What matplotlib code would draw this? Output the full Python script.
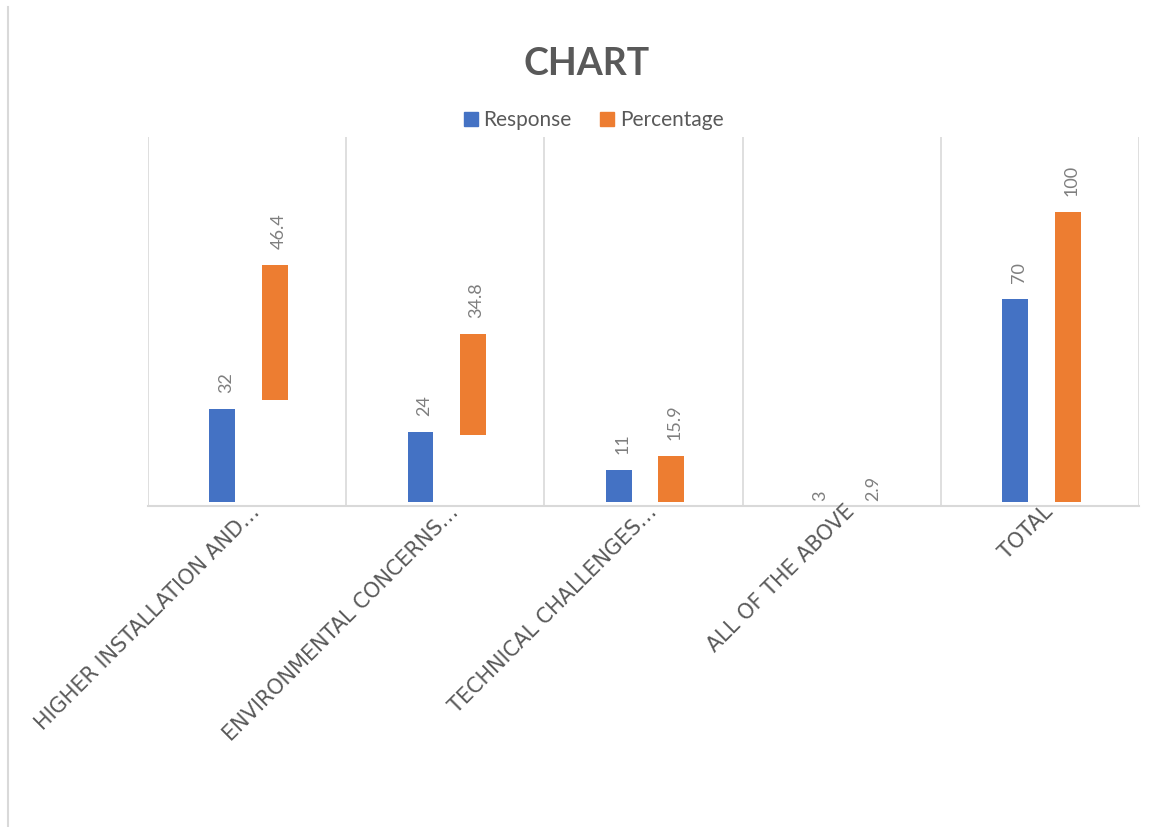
import numpy as np
import matplotlib
matplotlib.use("Agg")
import matplotlib.pyplot as plt
from matplotlib.lines import Line2D
from matplotlib.font_manager import FontProperties

plt.rcParams['font.family'] = ['Lato', 'DejaVu Sans']

# data
categories = ["HIGHER INSTALLATION AND…", "ENVIRONMENTAL CONCERNS…",
              "TECHNICAL CHALLENGES…", "ALL OF THE ABOVE", "TOTAL"]
response = [32, 24, 11, 3, 70]
percentage = [46.4, 34.8, 15.9, 2.9, 100]
# what the bars actually show in the picture
response_drawn = [32, 24, 11, 0, 70]
percentage_drawn = [46.4, 34.8, 15.9, 0, 100]
percentage_base = [35.1, 23.1, 0, 0, 0]
response_text = ["32", "24", "11", "3", "70"]
percentage_text = ["46.4", "34.8", "15.9", "2.9", "100"]

blue = "#4472C4"
orange = "#ED7D31"
grid = "#D9D9D9"
dark = "#595959"
light = "#7F7F7F"

W, H = 1164, 827
fig = plt.figure(figsize=(W / 100, H / 100), dpi=100)
ax = fig.add_axes([148 / W, 1 - 505.7 / H, (1139 - 148) / W, (505.7 - 137) / H])

x = np.arange(len(categories))
bw = 0.13
b1 = ax.bar(x - 0.125, response_drawn, width=bw, color=blue, zorder=3)
b2 = ax.bar(x + 0.14, percentage_drawn, width=bw, bottom=percentage_base,
            color=orange, zorder=3)

ax.set_xlim(-0.5, len(categories) - 0.5)
ax.set_ylim(-1.38, 125.8)

for xv in np.arange(-0.5, len(categories), 1.0):
    ax.axvline(xv, color=grid, lw=1.2, zorder=1)

for s in ["top", "right", "left"]:
    ax.spines[s].set_visible(False)
ax.spines["bottom"].set_color(grid)
ax.spines["bottom"].set_linewidth(1.5)
ax.set_yticks([])
ax.set_xticks([])

# value labels
def put_labels(bars, texts, bases):
    for rect, txt, base in zip(bars, texts, bases):
        h = rect.get_height()
        top = base + h
        pad = 11.5 if h > 0 else 0.8
        ax.annotate(txt, (rect.get_x() + rect.get_width() / 2, top),
                    xytext=(2.5, pad), textcoords="offset points",
                    rotation=90, ha="center", va="bottom",
                    fontsize=13, color=light)

put_labels(b1, response_text, [0] * len(categories))
put_labels(b2, percentage_text, percentage_base)

# category labels, rotated like the original (wide face to mimic the letter spacing)
cat_font = FontProperties(family="DejaVu Sans", size=15)
for xi, cat in zip(x, categories):
    ax.annotate(cat, (xi, 0), xycoords=("data", "axes fraction"),
                xytext=(2, 3), textcoords="offset points",
                rotation=45, rotation_mode="anchor", ha="right", va="top",
                fontproperties=cat_font, color=dark)

fig.text(587 / W, 1 - 64 / H, "CHART", ha="center", va="center",
         fontsize=27, fontweight="bold", color=dark)

handles = [Line2D([], [], marker="s", ls="", color=blue, markersize=10),
           Line2D([], [], marker="s", ls="", color=orange, markersize=10)]
fig.legend(handles, ["Response", "Percentage"], loc="center",
           bbox_to_anchor=(592 / W, 1 - 120 / H), ncol=2, frameon=False,
           fontsize=15, labelcolor=dark, handletextpad=0.1,
           columnspacing=1.2, handlelength=1.0)

# left edge of the chart frame
fig.add_artist(Line2D([8 / W, 8 / W], [0, 1 - 7 / H], color=grid, lw=1.5))

fig.savefig("out.png", dpi=100)
